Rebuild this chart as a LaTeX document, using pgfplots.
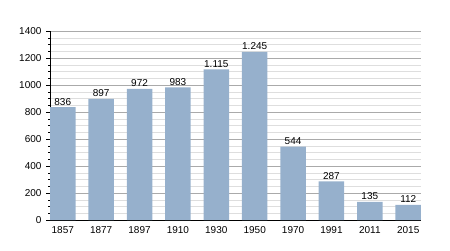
\documentclass[border=0pt]{standalone}
\usepackage{pgfplots}
\pgfplotsset{compat=1.18}
\usepackage{fontspec}
\setmainfont{Liberation Sans}
\definecolor{barc}{RGB}{150,176,204}
\definecolor{majg}{RGB}{170,170,170}
\definecolor{ming}{RGB}{222,222,222}
\begin{document}
\begin{tikzpicture}
\useasboundingbox (0,0) rectangle (450pt,250pt);
\begin{axis}[
  at={(50pt,30pt)}, anchor=south west,
  scale only axis, width=371pt, height=189pt,
  xmin=-0.333, xmax=9.333,
  ymin=0, ymax=1400,
  ytick={0,200,...,1400},
  minor y tick num=3,
  xtick=data,
  xticklabels={1857,1877,1897,1910,1930,1950,1970,1991,2011,2015},
  x tick style={draw=none},
  y tick style={black, thin},
  tick align=outside,
  major tick length=4pt, minor tick length=2pt,
  ymajorgrids, yminorgrids,
  major grid style={majg, line width=0.6pt},
  minor grid style={ming, line width=0.5pt},
  axis x line*=bottom, axis y line*=left,
  axis line style={black, line width=0.8pt, -},
  tick label style={font=\fontsize{10}{11}\selectfont},
  /pgf/number format/assume math mode=true,
  /pgf/number format/1000 sep={},
  xticklabel style={yshift=1pt},
  yticklabel style={xshift=-1pt},
  nodes near coords,
  point meta=explicit symbolic,
  every node near coord/.append style={font=\fontsize{10}{11}\selectfont, black, yshift=-1.5pt},
]
\addplot[ybar, bar width=25.5pt, fill=barc, draw=none]
  table[meta=lab] {
  x y lab
  0 836 836
  1 897 897
  2 972 972
  3 983 983
  4 1115 1.115
  5 1245 1.245
  6 544 544
  7 287 287
  8 135 135
  9 112 112
};
\end{axis}
\end{tikzpicture}
\end{document}
